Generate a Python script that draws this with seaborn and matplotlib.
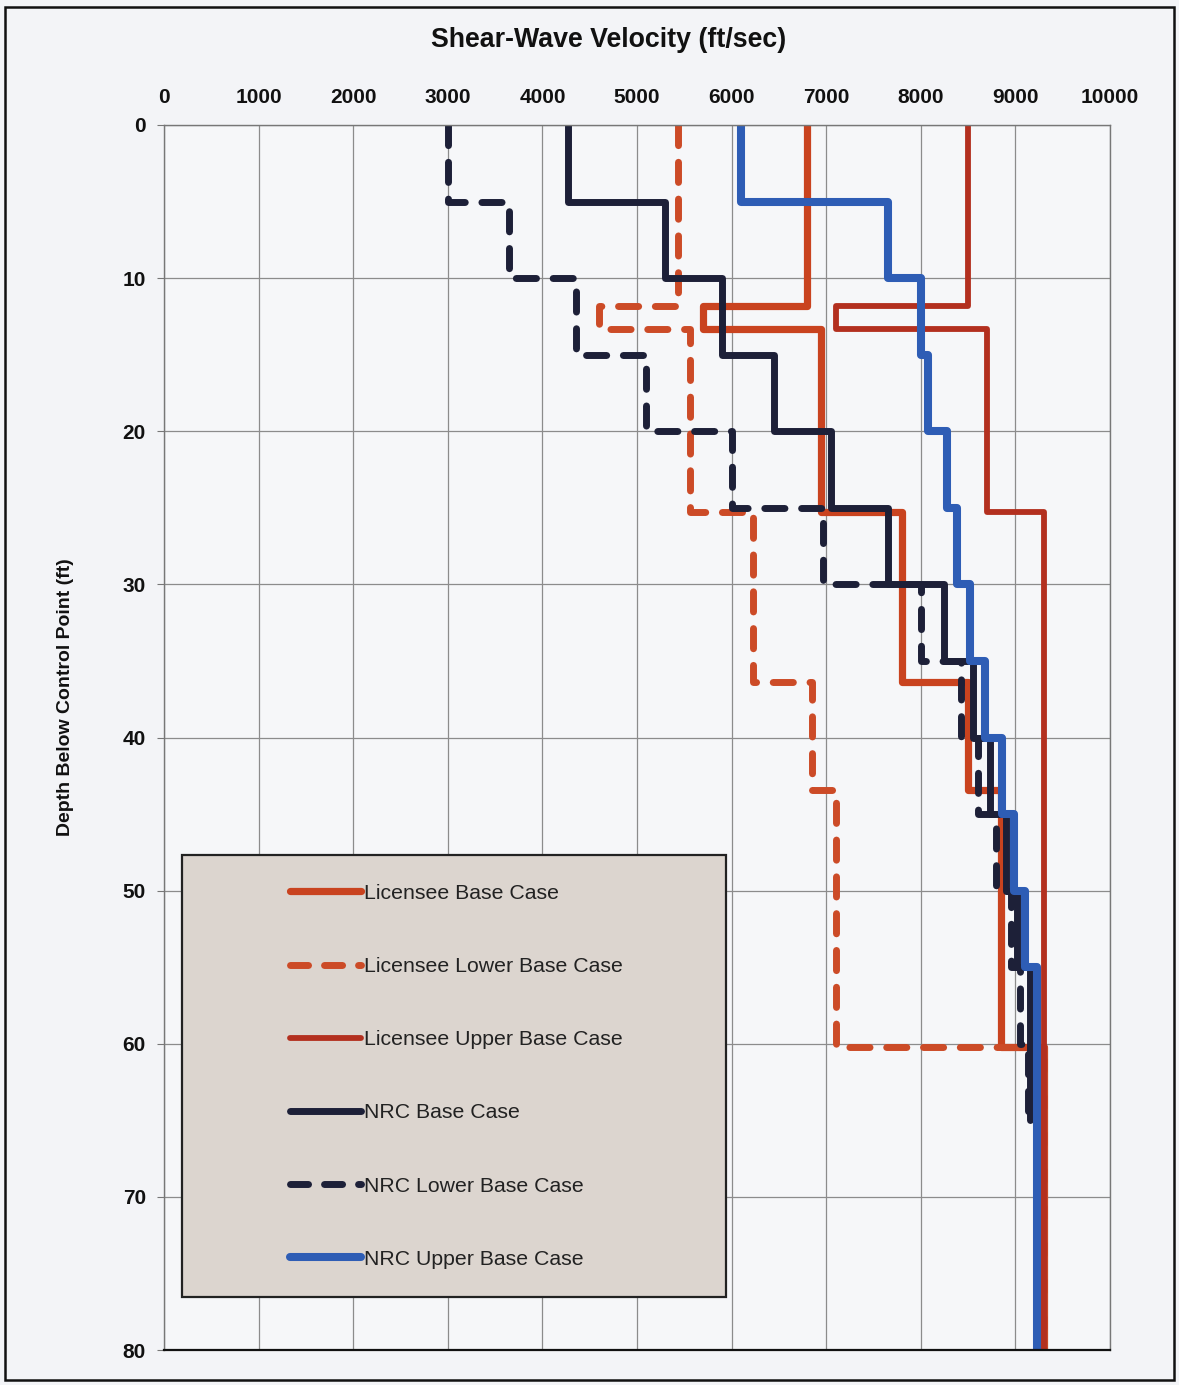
import numpy as np
import pandas as pd
import matplotlib
matplotlib.use("Agg")
import matplotlib.pyplot as plt
from matplotlib.lines import Line2D
from matplotlib.patches import Rectangle
import seaborn as sns

# ---- data ----
lic_depths = [0, 11.8, 13.3, 25.3, 36.4, 43.4, 60.2, 80]
lic_base = [6800, 5700, 6950, 7800, 8500, 8850, 9300]
lic_lower = [5430, 4600, 5560, 6230, 6850, 7100, 9300]
lic_upper = [8500, 7100, 8700, 9300, 9300, 9300, 9300]

nrc_base_depths = [0, 5, 10, 15, 20, 25, 30, 35, 40, 45, 50, 55, 65]
nrc_base = [4270, 5300, 5900, 6450, 7050, 7650, 8250, 8550, 8730, 8900, 9020, 9150]

nrc_lower_depths = [0, 5, 10, 15, 20, 25, 30, 35, 40, 45, 50, 55, 60, 65]
nrc_lower = [3000, 3650, 4350, 5100, 6000, 6970, 8000, 8420, 8600, 8800, 8950, 9050, 9130]

nrc_upper_depths = [0, 5, 10, 15, 20, 25, 30, 35, 40, 45, 50, 55, 80]
nrc_upper = [6100, 7650, 8000, 8080, 8280, 8380, 8520, 8680, 8860, 8980, 9100, 9230]

x_ticks = [0, 1000, 2000, 3000, 4000, 5000, 6000, 7000, 8000, 9000, 10000]
y_ticks = [0, 10, 20, 30, 40, 50, 60, 70, 80]

labels = ["Licensee Base Case", "Licensee Lower Base Case", "Licensee Upper Base Case",
          "NRC Base Case", "NRC Lower Base Case", "NRC Upper Base Case"]


def steps(depths, vels):
    d = np.repeat(np.asarray(depths, float), 2)[1:-1]
    v = np.repeat(np.asarray(vels, float), 2)
    return pd.DataFrame({"vel": v, "depth": d})


sns.set_theme(style="white")
plt.rcParams['font.family'] = ['Liberation Sans', 'DejaVu Sans']

fig = plt.figure(figsize=(11.79, 13.85), dpi=100, facecolor="#f3f4f7")
ax = fig.add_axes([164/1179, 1-1350/1385, (1110-164)/1179, (1350-125)/1385])
ax.set_facecolor("#f6f7f9")

c_lb = "#c9431f"
c_ll = "#cc4b27"
c_lu = "#b3301f"
c_nb = "#1d2038"
c_nu = "#2e5db5"

dash = (2.9, 2.4)
styles = [
    (lic_depths, lic_base, dict(color=c_lb, lw=5.2)),
    (lic_depths, lic_lower, dict(color=c_ll, lw=5.0, dashes=dash)),
    (lic_depths, lic_upper, dict(color=c_lu, lw=4.2)),
    (nrc_base_depths, nrc_base, dict(color=c_nb, lw=5.0)),
    (nrc_lower_depths, nrc_lower, dict(color=c_nb, lw=5.0, dashes=dash)),
    (nrc_upper_depths, nrc_upper, dict(color=c_nu, lw=5.8)),
]

for (dep, vel, st), lab in zip(styles, labels):
    df = steps(dep, vel)
    kw = dict(st)
    dashes = kw.pop("dashes", None)
    sns.lineplot(data=df, x="vel", y="depth", sort=False, estimator=None,
                 ax=ax, legend=False, **kw)
    ln = ax.get_lines()[-1]
    ln.set_solid_capstyle("round")
    ln.set_solid_joinstyle("round")
    if dashes is not None:
        ln.set_dashes(dashes)
        ln.set_dash_capstyle("round")

ax.set_xlim(0, 10000)
ax.set_ylim(80, 0)
ax.set_xticks(x_ticks)
ax.set_yticks(y_ticks)
ax.set_xticklabels([str(t) for t in x_ticks], fontsize=15, fontweight="bold", color="#111111")
ax.set_yticklabels([str(t) for t in y_ticks], fontsize=15, fontweight="bold", color="#111111")
ax.xaxis.tick_top()
ax.tick_params(axis="x", length=0, pad=13)
ax.tick_params(axis="y", length=5, color="#777777", width=0.8, pad=8, left=True)
ax.grid(True, color="#8c8c8c", lw=0.9)
ax.set_axisbelow(True)
for s in ["left", "top", "right"]:
    ax.spines[s].set_color("#777777")
    ax.spines[s].set_linewidth(1.0)
ax.spines["bottom"].set_color("#111111")
ax.spines["bottom"].set_linewidth(1.6)
ax.set_xlabel("")
ax.set_ylabel("")

fig.text(609/1179, 1-40/1385, "Shear-Wave Velocity (ft/sec)", ha="center", va="center",
         fontsize=19.3, fontweight="bold", color="#111111")
fig.text(66/1179, 1-697/1385, "Depth Below Control Point (ft)", ha="center", va="center",
         rotation=90, fontsize=14, fontweight="bold", color="#111111")

# legend box
lx0, lx1 = (182-164)/946, (726-164)/946
ly0, ly1 = (1350-1297)/1225, (1350-855)/1225
ax.add_patch(Rectangle((lx0, ly0), lx1-lx0, ly1-ly0, transform=ax.transAxes,
                       facecolor="#dcd5cf", edgecolor="#222222", lw=1.6, zorder=5))

handles = []
for dep, vel, st in styles:
    kw = dict(st)
    dashes = kw.pop("dashes", None)
    h = Line2D([0], [0], color=kw["color"], lw=kw["lw"], solid_capstyle="round")
    if dashes is not None:
        h.set_dashes((2.6, 2.3))
        h.set_dash_capstyle("round")
    handles.append(h)

leg = ax.legend(handles, labels, loc="upper left",
                bbox_to_anchor=((287-164)/946 + 0.003, (1350-871)/1225 + 0.005 - 0.0155),
                frameon=False, fontsize=15.3, handlelength=3.34, handletextpad=0.15,
                labelspacing=2.55, borderpad=0, borderaxespad=0)
leg.set_zorder(6)
for t in leg.get_texts():
    t.set_color("#222222")

# outer frame
fig.add_artist(Rectangle((5/1179, 5/1385), 1169/1179, 1373/1385, transform=fig.transFigure,
                         fill=False, edgecolor="#111111", lw=1.8))

fig.savefig("out.png", dpi=100, facecolor=fig.get_facecolor())
